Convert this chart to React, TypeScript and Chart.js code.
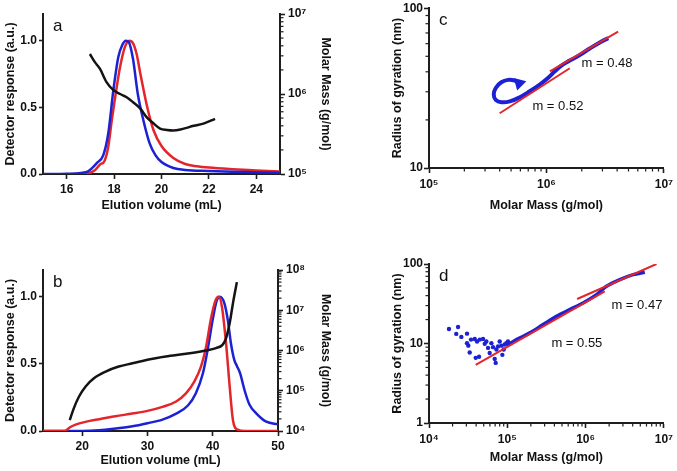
import React, { useEffect, useRef } from 'react';
import { Chart, registerables } from 'chart.js';

Chart.register(...registerables);

const FAMILY = '"Liberation Sans", Arial, Helvetica, sans-serif';
const BLUE = '#1c22d4';
const RED = '#e3262b';
const BLACK = '#141414';
const AXIS = '#1e1e1e';
const TEXT = '#111111';

// ---------------- Panel a ----------------
const aVolBlue = [15.0, 16.0, 16.6, 16.9, 17.1, 17.26, 17.54, 17.75, 17.97, 18.18, 18.35, 18.5, 18.62, 18.8, 19.0, 19.24, 19.5, 19.75, 20.0, 20.5, 21.0, 22.0, 23.0, 25.0];
const aRespBlue = [0.0, 0.002, 0.008, 0.02, 0.05, 0.08, 0.14, 0.3, 0.63, 0.88, 0.97, 1.0, 0.99, 0.86, 0.6, 0.4, 0.23, 0.14, 0.09, 0.045, 0.03, 0.022, 0.016, 0.01];
const aVolRed = [16.3, 16.9, 17.2, 17.4, 17.6, 17.75, 17.9, 18.04, 18.25, 18.45, 18.65, 18.8, 18.95, 19.1, 19.4, 19.66, 20.0, 20.5, 21.0, 21.5, 22.0, 23.0, 24.0, 25.0];
const aRespRed = [0.0, 0.005, 0.03, 0.07, 0.1, 0.2, 0.4, 0.57, 0.8, 0.95, 1.0, 0.98, 0.9, 0.76, 0.5, 0.33, 0.21, 0.12, 0.075, 0.058, 0.048, 0.036, 0.027, 0.018];
const aVolMass = [16.98, 17.19, 17.4, 17.68, 17.97, 18.25, 18.53, 18.8, 19.1, 19.38, 19.66, 19.94, 20.23, 20.5, 20.8, 21.36, 21.8, 22.26];
const aMolarMass = [3.16e6, 2.5e6, 2.07e6, 1.41e6, 1.12e6, 1.0e6, 9.1e5, 7.9e5, 6.6e5, 5.1e5, 4.3e5, 3.7e5, 3.55e5, 3.5e5, 3.6e5, 4.0e5, 4.3e5, 4.9e5];
const aXTicks = [16, 18, 20, 22, 24];
const aXTickLabels = ['16', '18', '20', '22', '24'];
const aYTicks = [0, 0.5, 1.0];
const aYTickLabels = ['0.0', '0.5', '1.0'];
const aMassTicks = [1e5, 1e6, 1e7];
const aMassTickLabels = ['10⁵', '10⁶', '10⁷'];

// ---------------- Panel b ----------------
const bVolRed = [14, 17.3, 18.2, 19.0, 20.5, 22.6, 25.1, 27.7, 30.0, 32.3, 34.4, 35.9, 37.2, 38.2, 39.0, 39.7, 40.4, 40.9, 41.4, 42.05, 42.6, 43.1, 43.8, 45.0, 50];
const bRespRed = [0, 0, 0.03, 0.048, 0.068, 0.088, 0.11, 0.13, 0.15, 0.18, 0.22, 0.28, 0.37, 0.48, 0.63, 0.83, 0.97, 1.0, 0.93, 0.65, 0.33, 0.08, 0.01, 0, 0];
const bVolBlue = [14, 20, 22.6, 25.1, 27.7, 30, 32.3, 34.4, 36.2, 37.4, 38.5, 39.2, 40, 40.6, 41.1, 41.8, 42.3, 42.8, 43.3, 43.7, 44.2, 44.9, 45.6, 46.7, 48.2, 50];
const bRespBlue = [0, 0, 0.005, 0.018, 0.035, 0.058, 0.085, 0.13, 0.19, 0.28, 0.43, 0.6, 0.83, 0.97, 1.0, 0.95, 0.83, 0.65, 0.53, 0.485, 0.43, 0.3, 0.2, 0.13, 0.07, 0.05];
const bVolMass = [18.1, 18.7, 19.5, 20.5, 21.8, 23.6, 25.6, 27.7, 30, 32.8, 35.9, 39, 40.5, 41.5, 42.05, 42.6, 43.1, 43.7];
const bMolarMass = [1.86e4, 3.6e4, 7.1e4, 1.26e5, 2.04e5, 3.0e5, 4.0e5, 4.8e5, 5.9e5, 7.1e5, 8.3e5, 1.0e6, 1.15e6, 1.38e6, 2.04e6, 4.8e6, 1.5e7, 5.0e7];
const bXTicks = [20, 30, 40, 50];
const bXTickLabels = ['20', '30', '40', '50'];
const bYTicks = [0, 0.5, 1.0];
const bYTickLabels = ['0.0', '0.5', '1.0'];
const bMassTicks = [1e4, 1e5, 1e6, 1e7, 1e8];
const bMassTickLabels = ['10⁴', '10⁵', '10⁶', '10⁷', '10⁸'];

// ---------------- Panel c ----------------
const cMassCurve = [585e3, 537e3, 471e3, 413e3, 370e3, 356e3, 370e3, 413e3, 488e3, 593e3, 721e3, 877e3, 1.03e6, 1.18e6, 1.34e6, 1.58e6, 1.92e6, 2.34e6, 2.85e6, 3.36e6];
const cRgCurve = [33.9, 35.2, 35.6, 34.4, 31.7, 28.8, 26.7, 25.8, 26.1, 27.7, 30.2, 33.3, 36.6, 40.3, 43.7, 47.0, 50.9, 56.0, 61.1, 65.0];
const cFit1Mass = [400e3, 1.58e6];
const cFit1Rg = [22.0, 42.1];
const cFit2Mass = [1.07e6, 4.08e6];
const cFit2Rg = [40.3, 71.4];
const cXTicks = [1e5, 1e6, 1e7];
const cXTickLabels = ['10⁵', '10⁶', '10⁷'];
const cYTicks = [10, 100];
const cYTickLabels = ['10', '100'];
const cNotes = [
  { text: 'm = 0.48', x: 1.99e6, y: 42.7 },
  { text: 'm = 0.52', x: 7.6e5, y: 23.2 },
];

// ---------------- Panel d ----------------
const dScatterMass = [18.0e3, 23.5e3, 22.3e3, 30.6e3, 25.9e3, 30.6e3, 31.8e3, 33.1e3, 34.4e3, 38.4e3, 39.5e3, 43.6e3, 41.1e3, 44.5e3, 49e3, 51.5e3, 54e3, 56.8e3, 59.6e3, 62.7e3, 65.8e3, 69.1e3, 71.1e3, 72.6e3, 76.2e3, 80e3, 84.1e3, 86.5e3, 90e3, 92.7e3, 97.3e3, 102e3];
const dScatterRg = [15.2, 16.1, 13.2, 13.3, 12.1, 10.1, 9.4, 7.7, 11.2, 11.4, 6.6, 6.8, 10.6, 11.2, 11.4, 9.9, 10.6, 8.8, 7.6, 10.1, 9.0, 6.4, 5.7, 8.4, 9.2, 10.6, 9.4, 7.2, 8.4, 9.7, 10.1, 10.6];
const dMassCurve = [97.5e3, 131e3, 194e3, 287e3, 424e3, 628e3, 930e3, 1.38e6, 1.85e6, 2.74e6, 4.05e6, 5.71e6];
const dRgCurve = [9.4, 11.2, 13.6, 17.3, 22.0, 26.7, 32.3, 41.1, 52.4, 63.5, 73.5, 78.6];
const dFit1Mass = [39.5e3, 1.76e6];
const dFit1Rg = [5.4, 45.3];
const dFit2Mass = [780e3, 8.05e6];
const dFit2Rg = [36.3, 100];
const dXTicks = [1e4, 1e5, 1e6, 1e7];
const dXTickLabels = ['10⁴', '10⁵', '10⁶', '10⁷'];
const dYTicks = [1, 10, 100];
const dYTickLabels = ['1', '10', '100'];
const dNotes = [
  { text: 'm = 0.47', x: 2.14e6, y: 27.2 },
  { text: 'm = 0.55', x: 3.66e5, y: 9.04 },
];

// ---------------- helpers ----------------
const zip = (xs: number[], ys: number[]) => xs.map((x, i) => ({ x, y: ys[i] }));

const tickFont = { family: FAMILY, size: 12, weight: 'bold' as const };
const titleFont = { family: FAMILY, size: 12.5, weight: 'bold' as const };

function logTickValues(majors: number[]) {
  const out: number[] = [];
  majors.forEach((m, i) => {
    out.push(m);
    if (i < majors.length - 1) for (let k = 2; k <= 9; k++) out.push(m * k);
  });
  return out;
}

type AxisOpts = {
  type: 'linear' | 'logarithmic';
  position: 'left' | 'right' | 'bottom';
  min: number;
  max: number;
  majors: number[];
  labels: string[];
  size: number;
  title: string;
  titlePad: any;
  tickLength: number;
  tickPad: number;
};

function axis(o: AxisOpts) {
  const horizontal = o.position === 'bottom';
  const values = o.type === 'logarithmic' ? logTickValues(o.majors) : o.majors;
  return {
    type: o.type,
    position: o.position,
    min: o.min,
    max: o.max,
    afterBuildTicks: (s: any) => {
      s.ticks = values.map((v) => ({ value: v }));
    },
    afterFit: (s: any) => {
      if (horizontal) s.height = o.size;
      else s.width = o.size;
    },
    ticks: {
      autoSkip: false,
      maxRotation: 0,
      minRotation: 0,
      font: tickFont,
      color: TEXT,
      padding: o.tickPad,
      callback: (v: any) => {
        const i = o.majors.indexOf(Number(v));
        return i >= 0 ? o.labels[i] : '';
      },
    },
    grid: {
      display: true,
      drawOnChartArea: false,
      drawTicks: true,
      tickLength: o.tickLength,
      tickWidth: 1.6,
      color: AXIS,
      tickColor: (c: any) => (c.tick && o.majors.indexOf(c.tick.value) >= 0 ? AXIS : 'rgba(0,0,0,0)'),
    },
    border: { display: true, color: AXIS, width: 2 },
    title: { display: true, text: o.title, font: titleFont, color: TEXT, padding: o.titlePad },
  };
}

function minorTicksPlugin(spec: Record<string, number[]>) {
  return {
    id: 'minorTicks',
    afterDraw(chart: any) {
      const ctx = chart.ctx;
      ctx.save();
      ctx.strokeStyle = AXIS;
      ctx.lineWidth = 1.2;
      Object.keys(spec).forEach((id) => {
        const s = chart.scales[id];
        if (!s) return;
        const majors = spec[id];
        s.ticks.forEach((t: any) => {
          if (majors.indexOf(t.value) >= 0) return;
          const p = s.getPixelForValue(t.value);
          const pos = s.options.position;
          ctx.beginPath();
          if (pos === 'left') {
            ctx.moveTo(s.right, p);
            ctx.lineTo(s.right - 3.5, p);
          } else if (pos === 'right') {
            ctx.moveTo(s.left, p);
            ctx.lineTo(s.left + 3.5, p);
          } else {
            ctx.moveTo(p, s.top);
            ctx.lineTo(p, s.top + 3.5);
          }
          ctx.stroke();
        });
      });
      ctx.restore();
    },
  };
}

function textPlugin(letter: string, notes: { text: string; x: number; y: number }[]) {
  return {
    id: 'panelText',
    afterDraw(chart: any) {
      const { ctx, chartArea, scales } = chart;
      ctx.save();
      ctx.fillStyle = TEXT;
      ctx.textBaseline = 'alphabetic';
      ctx.textAlign = 'left';
      ctx.font = `17px ${FAMILY}`;
      ctx.fillText(letter, chartArea.left + 10, chartArea.top + 17);
      ctx.font = `13px ${FAMILY}`;
      notes.forEach((n) => {
        ctx.fillText(n.text, scales.x.getPixelForValue(n.x), scales.y.getPixelForValue(n.y));
      });
      ctx.restore();
    },
  };
}

const lineDS = (data: any[], color: string, yAxisID: string, order: number) => ({
  data,
  borderColor: color,
  backgroundColor: color,
  borderWidth: 2.5,
  pointRadius: 0,
  tension: 0.4,
  cubicInterpolationMode: 'monotone' as const,
  yAxisID,
  order,
  fill: false,
});

const baseOptions = (padding: any) => ({
  animation: false as const,
  responsive: true,
  maintainAspectRatio: false,
  layout: { padding },
  plugins: { legend: { display: false }, tooltip: { enabled: false } },
  events: [],
});

function configA(): any {
  return {
    type: 'line',
    data: {
      datasets: [
        lineDS(zip(aVolMass, aMolarMass), BLACK, 'y2', 0),
        lineDS(zip(aVolBlue, aRespBlue), BLUE, 'y', 1),
        lineDS(zip(aVolRed, aRespRed), RED, 'y', 2),
      ],
    },
    options: {
      ...baseOptions({ top: 14, left: 0, right: 0, bottom: 0 }),
      scales: {
        x: axis({ type: 'linear', position: 'bottom', min: 15, max: 25, majors: aXTicks, labels: aXTickLabels, size: 41, title: 'Elution volume (mL)', titlePad: { top: 0, bottom: 2 }, tickLength: 5, tickPad: 3 }),
        y: axis({ type: 'linear', position: 'left', min: 0, max: 1.2, majors: aYTicks, labels: aYTickLabels, size: 43, title: 'Detector response (a.u.)', titlePad: { top: 3, bottom: 0 }, tickLength: 4, tickPad: 2 }),
        y2: axis({ type: 'logarithmic', position: 'right', min: 1e5, max: 1e7, majors: aMassTicks, labels: aMassTickLabels, size: 60, title: 'Molar Mass (g/mol)', titlePad: { top: 7, bottom: 0 }, tickLength: 5, tickPad: 3 }),
      },
    },
    plugins: [minorTicksPlugin({ y2: aMassTicks }), textPlugin('a', [])],
  };
}

function configB(): any {
  return {
    type: 'line',
    data: {
      datasets: [
        lineDS(zip(bVolMass, bMolarMass), BLACK, 'y2', 0),
        lineDS(zip(bVolRed, bRespRed), RED, 'y', 1),
        lineDS(zip(bVolBlue, bRespBlue), BLUE, 'y', 2),
      ],
    },
    options: {
      ...baseOptions({ top: 30, left: 0, right: 0, bottom: 0 }),
      scales: {
        x: axis({ type: 'linear', position: 'bottom', min: 14, max: 50, majors: bXTicks, labels: bXTickLabels, size: 40, title: 'Elution volume (mL)', titlePad: { top: 0, bottom: 2.5 }, tickLength: 5, tickPad: 3 }),
        y: axis({ type: 'linear', position: 'left', min: 0, max: 1.2, majors: bYTicks, labels: bYTickLabels, size: 43, title: 'Detector response (a.u.)', titlePad: { top: 3, bottom: 0 }, tickLength: 4, tickPad: 2 }),
        y2: axis({ type: 'logarithmic', position: 'right', min: 1e4, max: 1e8, majors: bMassTicks, labels: bMassTickLabels, size: 62, title: 'Molar Mass (g/mol)', titlePad: { top: 7, bottom: 0 }, tickLength: 5, tickPad: 3 }),
      },
    },
    plugins: [minorTicksPlugin({ y2: bMassTicks }), textPlugin('b', [])],
  };
}

const fitDS = (data: any[]) => ({
  data,
  showLine: true,
  borderColor: RED,
  backgroundColor: RED,
  borderWidth: 2,
  pointRadius: 0,
  order: 0,
});

function configC(): any {
  return {
    type: 'scatter',
    data: {
      datasets: [
        fitDS(zip(cFit1Mass, cFit1Rg)),
        fitDS(zip(cFit2Mass, cFit2Rg)),
        {
          data: zip(cMassCurve, cRgCurve),
          showLine: true,
          borderColor: BLUE,
          backgroundColor: BLUE,
          borderWidth: 4,
          tension: 0.4,
          pointRadius: (c: any) => (c.dataIndex === 0 ? 3.5 : 0),
          pointStyle: 'triangle',
          rotation: 75,
          order: 1,
        },
      ],
    },
    options: {
      ...baseOptions({ top: 7, left: 0, right: 13, bottom: 0 }),
      scales: {
        x: axis({ type: 'logarithmic', position: 'bottom', min: 1e5, max: 1e7, majors: cXTicks, labels: cXTickLabels, size: 47, title: 'Molar Mass (g/mol)', titlePad: { top: 0, bottom: 2 }, tickLength: 5, tickPad: 4 }),
        y: axis({ type: 'logarithmic', position: 'left', min: 10, max: 100, majors: cYTicks, labels: cYTickLabels, size: 39, title: 'Radius of gyration (nm)', titlePad: { top: 0.5, bottom: 0 }, tickLength: 5, tickPad: 1 }),
      },
    },
    plugins: [minorTicksPlugin({ x: cXTicks, y: cYTicks }), textPlugin('c', cNotes)],
  };
}

function configD(): any {
  return {
    type: 'scatter',
    data: {
      datasets: [
        fitDS(zip(dFit1Mass, dFit1Rg)),
        fitDS(zip(dFit2Mass, dFit2Rg)),
        {
          data: zip(dMassCurve, dRgCurve),
          showLine: true,
          borderColor: BLUE,
          backgroundColor: BLUE,
          borderWidth: 3.5,
          tension: 0.3,
          pointRadius: 0,
          order: 1,
        },
        {
          data: zip(dScatterMass, dScatterRg),
          showLine: false,
          borderColor: BLUE,
          backgroundColor: BLUE,
          borderWidth: 0,
          pointRadius: 2.2,
          order: 2,
        },
      ],
    },
    options: {
      ...baseOptions({ top: 24, left: 0, right: 13, bottom: 0 }),
      scales: {
        x: axis({ type: 'logarithmic', position: 'bottom', min: 1e4, max: 1e7, majors: dXTicks, labels: dXTickLabels, size: 48, title: 'Molar Mass (g/mol)', titlePad: { top: 0, bottom: 6 }, tickLength: 5, tickPad: 4 }),
        y: axis({ type: 'logarithmic', position: 'left', min: 1, max: 100, majors: dYTicks, labels: dYTickLabels, size: 39, title: 'Radius of gyration (nm)', titlePad: { top: 0.5, bottom: 0 }, tickLength: 5, tickPad: 1 }),
      },
    },
    plugins: [minorTicksPlugin({ x: dXTicks, y: dYTicks }), textPlugin('d', dNotes)],
  };
}

function Panel({ make, left, top, width, height }: { make: () => any; left: number; top: number; width: number; height: number }) {
  const ref = useRef<HTMLCanvasElement>(null);
  useEffect(() => {
    if (!ref.current) return;
    const chart = new Chart(ref.current, make());
    return () => chart.destroy();
  }, [make]);
  return (
    <div style={{ position: 'absolute', left, top, width, height }}>
      <canvas ref={ref} />
    </div>
  );
}

export default function App() {
  return (
    <div style={{ position: 'absolute', left: 0, top: 0, width: 677, height: 471, background: '#fff', overflow: 'hidden' }}>
      <Panel make={configA} left={0} top={0} width={340} height={215} />
      <Panel make={configB} left={0} top={240} width={340} height={231} />
      <Panel make={configC} left={390} top={0} width={287} height={215} />
      <Panel make={configD} left={390} top={240} width={287} height={231} />
    </div>
  );
}
